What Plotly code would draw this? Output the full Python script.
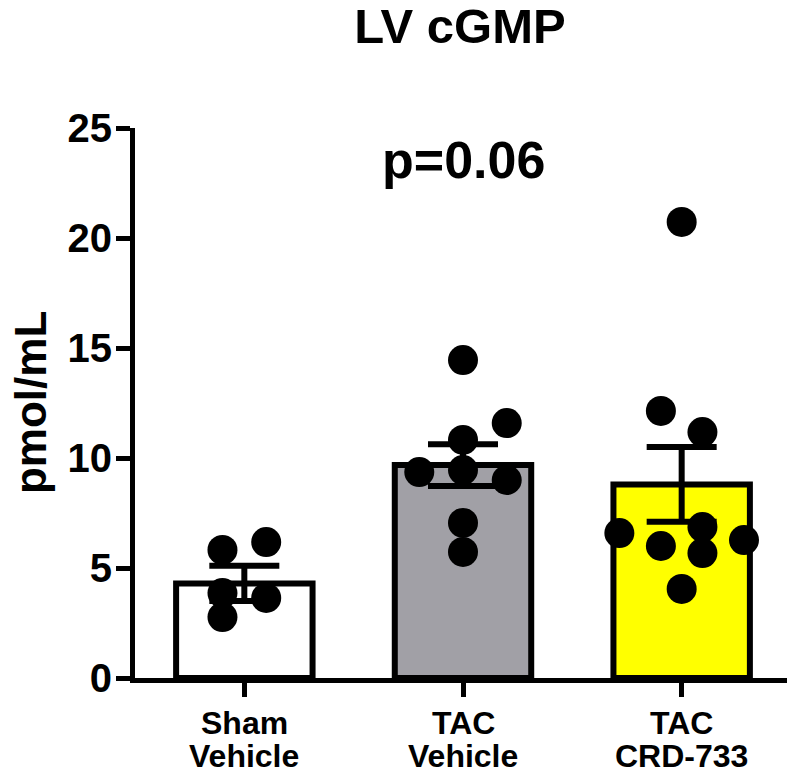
import plotly.graph_objects as go

# ---- data ----
cat_line1 = ["Sham", "TAC", "TAC"]
cat_line2 = ["Vehicle", "Vehicle", "CRD-733"]
means = [4.3, 9.68, 8.8]
sems = [0.8, 0.95, 1.7]
sham_points = [5.82, 6.18, 3.86, 3.64, 2.77]
tac_veh_points = [14.45, 11.59, 10.82, 9.36, 9.45, 9.0, 7.05, 5.73]
tac_crd_points = [20.73, 12.14, 11.18, 6.59, 6.86, 6.0, 5.68, 6.27, 4.05]
y_ticks = [0, 5, 10, 15, 20, 25]
p_text = "p=0.06"
title_text = "LV cGMP"
y_title = "pmol/mL"

# ---- styling / layout helpers (positions of jittered dots) ----
sham_offsets = [-0.1, 0.1, -0.1, 0.1, -0.1]
tac_veh_offsets = [0.0, 0.2, 0.0, -0.2, 0.0, 0.2, 0.0, 0.0]
tac_crd_offsets = [0.0, -0.095, 0.095, -0.285, 0.095, -0.095, 0.095, 0.285, 0.0]
fills = ["#FFFFFF", "#A1A0A6", "#FFFF00"]
FONT = "Arial, Liberation Sans, sans-serif"

fig = go.Figure()
xs = list(range(len(cat_line1)))
fig.add_trace(go.Bar(
    x=xs, y=means, width=0.624,
    marker=dict(color=fills, line=dict(color="black", width=6)),
    error_y=dict(type="data", array=sems, visible=True, color="black",
                 thickness=6, width=35),
    showlegend=False, hoverinfo="skip",
))

groups = [(sham_points, sham_offsets), (tac_veh_points, tac_veh_offsets),
          (tac_crd_points, tac_crd_offsets)]
for i, (pts, offs) in enumerate(groups):
    fig.add_trace(go.Scatter(
        x=[i + o for o in offs], y=pts, mode="markers",
        marker=dict(color="black", size=30, line=dict(width=0)),
        showlegend=False, cliponaxis=False,
    ))

fig.add_annotation(x=1, y=23.55, xref="x", yref="y", text=p_text,
                   showarrow=False, yanchor="middle",
                   font=dict(family=FONT, size=52, color="black", weight="bold"))

for i, (a, b) in enumerate(zip(cat_line1, cat_line2)):
    fig.add_annotation(x=i, y=-0.0818, xref="x", yref="paper", text=a,
                       showarrow=False, yanchor="middle",
                       font=dict(family=FONT, size=32, color="black", weight="bold"))
    fig.add_annotation(x=i, y=-0.1418, xref="x", yref="paper", text=b,
                       showarrow=False, yanchor="middle",
                       font=dict(family=FONT, size=32, color="black", weight="bold"))

# y-axis title as a rotated annotation
fig.add_annotation(x=-0.160, y=0.5, xref="paper", yref="paper", text=y_title,
                   textangle=-90, showarrow=False, xanchor="center", yanchor="middle",
                   font=dict(family=FONT, size=44, color="black", weight="bold"))

# page body adds an 8px margin, so the figure is 8px smaller than the window
fig.update_layout(
    width=787, height=769,
    margin=dict(l=127, r=4, t=120, b=99),
    plot_bgcolor="white", paper_bgcolor="white",
    title=dict(text=title_text, x=0.5743, xanchor="center", y=0.9766, yanchor="middle",
               font=dict(family=FONT, size=49, color="black", weight="bold")),
    font=dict(family=FONT, color="black"),
)
fig.update_xaxes(
    range=[-0.5, 2.5], tickvals=xs, showticklabels=False, automargin=False,
    showline=True, linecolor="black", linewidth=5,
    ticks="outside", ticklen=14, tickwidth=5, tickcolor="black",
    showgrid=False, zeroline=False,
)
fig.update_yaxes(
    range=[0, 25], tickvals=y_ticks, automargin=False,
    showline=True, linecolor="black", linewidth=5,
    ticks="outside", ticklen=14, tickwidth=5, tickcolor="black",
    ticklabelstandoff=-4,
    showgrid=False, zeroline=False,
    tickfont=dict(family=FONT, size=40, color="black", weight="bold"),
)

fig.write_html("out.html")
